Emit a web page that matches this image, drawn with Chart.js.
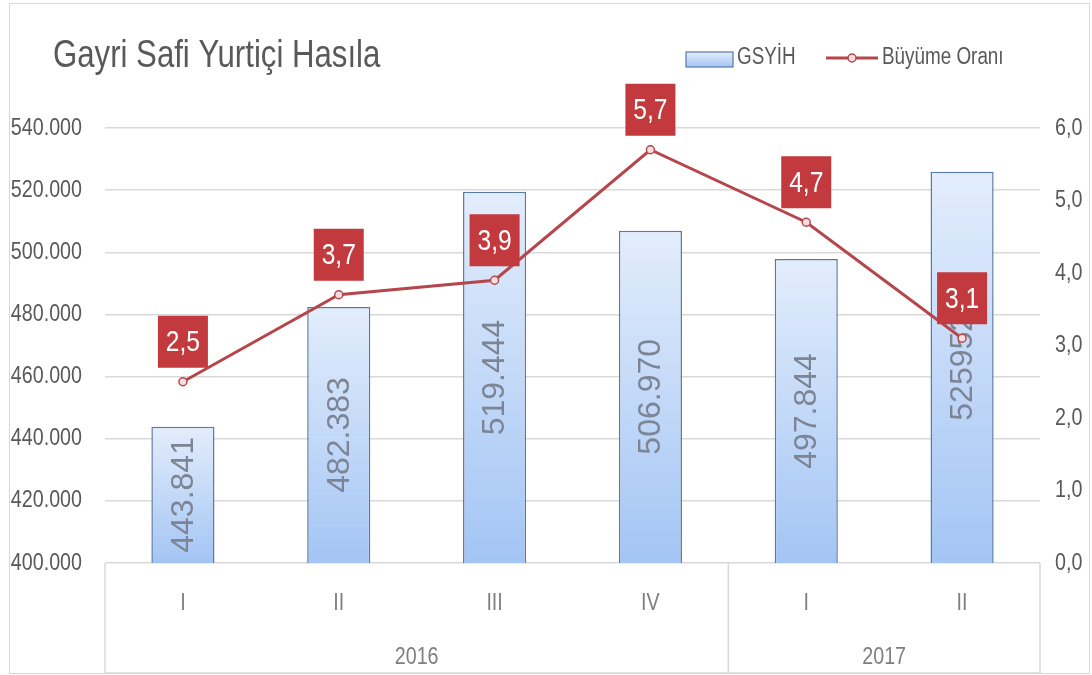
<!DOCTYPE html>
<html>
<head>
<meta charset="utf-8">
<script src="https://cdn.jsdelivr.net/npm/chart.js@4.4.0/dist/chart.umd.min.js"></script>
<style>
  body { margin: 0; background: #fff; }
  #wrap { width: 1092px; height: 675px; position: relative; }
</style>
</head>
<body>
<div id="wrap"><canvas id="canvas"></canvas></div>
<script>
const TITLE = "Gayri Safi Yurtiçi Hasıla";
const quarters = ["I", "II", "III", "IV", "I", "II"];
const years = ["2016", "2016", "2016", "2016", "2017", "2017"];
const gsyih = [443841, 482383, 519444, 506970, 497844, 525952];
const gsyihLabels = ["443.841", "482.383", "519.444", "506.970", "497.844", "525952"];
const buyume = [2.5, 3.7, 3.9, 5.7, 4.7, 3.1];

const SANS = '"Liberation Sans", Arial, sans-serif';
const GRAY = "#595959";
const LINE_RED = "#b5474c";
const BOX_RED = "#c23a3d";
const BAR_EDGE = "#5a7aa6";

function barGradient(c, top, bottom) {
    let g = c.createLinearGradient(0, top, 0, bottom);
    g.addColorStop(0, "#e3edfc");
    g.addColorStop(1, "#a3c5f4");
    return g;
}

// Arial Narrow look-alike: Liberation Sans squeezed sideways
function narrowText(c, text, x, y, size, align, color) {
    c.save();
    c.translate(x, y);
    c.scale(0.82, 1);
    c.font = size + "px " + SANS;
    c.textAlign = align;
    c.textBaseline = "middle";
    c.fillStyle = color;
    c.fillText(text, 0, 0);
    c.restore();
}

function fmtThousands(v) {
    return String(v).replace(/\B(?=(\d{3})+(?!\d))/g, ".");
}

const decorPlugin = {
    id: "decor",
    beforeDraw: function (chart) {
        let c = chart.ctx;
        c.save();
        c.fillStyle = "#fff";
        c.fillRect(0, 0, chart.width, chart.height);
        c.strokeStyle = "#d9d9d9";
        c.lineWidth = 1;
        c.strokeRect(9.5, 3.5, 1080, 670);
        c.restore();
    },
    beforeDatasetDraw: function (chart, args) {
        // bar value labels go under the line
        if (args.index !== 1) return;
        let c = chart.ctx;
        let x = chart.scales.x, y = chart.scales.y;
        c.save();
        c.font = "32px " + SANS;
        c.fillStyle = "#7d8594";
        c.textAlign = "center";
        c.textBaseline = "middle";
        gsyih.forEach(function (v, i) {
            let mid = (y.getPixelForValue(v) + y.getPixelForValue(y.min)) / 2;
            c.save();
            c.translate(x.getPixelForValue(i), mid);
            c.rotate(-Math.PI / 2);
            c.fillText(gsyihLabels[i], 0, 1);
            c.restore();
        });
        c.restore();
    },
    afterDatasetsDraw: function (chart) {
        let c = chart.ctx;
        let x = chart.scales.x, y2 = chart.scales.y2;
        c.save();
        buyume.forEach(function (v, i) {
            let w = 50, h = 52;
            let px = x.getPixelForValue(i);
            let top = y2.getPixelForValue(v) - 14 - h;
            c.fillStyle = BOX_RED;
            c.fillRect(px - w / 2, top, w, h);
            narrowText(c, v.toFixed(1).replace(".", ","), px, top + h / 2 + 1, 30, "center", "#fff");
        });
        c.restore();
    },
    afterDraw: function (chart) {
        let c = chart.ctx;
        let area = chart.chartArea;
        let x = chart.scales.x, y = chart.scales.y, y2 = chart.scales.y2;
        c.save();

        narrowText(c, TITLE, 53, 57, 38, "left", GRAY);

        // axis labels
        y.ticks.forEach(function (t) {
            narrowText(c, fmtThousands(t.value), 82, y.getPixelForValue(t.value), 24, "right", GRAY);
        });
        y2.ticks.forEach(function (t) {
            narrowText(c, t.value.toFixed(1).replace(".", ","), 1055, y2.getPixelForValue(t.value), 24, "left", GRAY);
        });
        quarters.forEach(function (q, i) {
            narrowText(c, q, x.getPixelForValue(i), 603, 24, "center", "#7f7f7f");
        });

        // legend
        c.fillStyle = barGradient(c, 52, 67);
        c.fillRect(686, 52, 47, 15);
        c.strokeStyle = BAR_EDGE;
        c.lineWidth = 1.2;
        c.strokeRect(686, 52, 47, 15);
        narrowText(c, "GSYİH", 737, 58, 23, "left", GRAY);
        c.strokeStyle = LINE_RED;
        c.lineWidth = 3;
        c.beginPath();
        c.moveTo(826, 58);
        c.lineTo(878, 58);
        c.stroke();
        c.beginPath();
        c.arc(852, 58, 4, 0, Math.PI * 2);
        c.fillStyle = "#f6dede";
        c.fill();
        c.lineWidth = 1.5;
        c.stroke();
        narrowText(c, "Büyüme Oranı", 882, 58, 23, "left", GRAY);

        // group separators and year labels
        let bottom = 673;
        c.strokeStyle = "#d9d9d9";
        c.lineWidth = 1.5;
        let cuts = [area.left];
        for (let i = 1; i < years.length; i++) {
            if (years[i] !== years[i - 1]) {
                cuts.push((x.getPixelForValue(i - 1) + x.getPixelForValue(i)) / 2);
            }
        }
        cuts.push(area.right);
        cuts.forEach(function (cx) {
            c.beginPath();
            c.moveTo(cx, area.bottom);
            c.lineTo(cx, bottom);
            c.stroke();
        });
        c.beginPath();
        c.moveTo(area.left, bottom);
        c.lineTo(area.right, bottom);
        c.stroke();

        let groups = [...new Set(years)];
        groups.forEach(function (yr, gi) {
            narrowText(c, yr, (cuts[gi] + cuts[gi + 1]) / 2, 657, 24, "center", "#7f7f7f");
        });
        c.restore();
    }
};

let ctx = document.getElementById("canvas").getContext("2d");
let myChart = new Chart(ctx, {
    type: "bar",
    data: {
        labels: quarters,
        datasets: [{
            type: "bar",
            label: "GSYİH",
            data: gsyih,
            yAxisID: "y",
            order: 1,
            backgroundColor: function (context) {
                let chart = context.chart;
                if (!chart.chartArea || context.dataIndex === undefined) return "#c3d9f8";
                let top = chart.scales.y.getPixelForValue(gsyih[context.dataIndex]);
                return barGradient(chart.ctx, top, chart.chartArea.bottom);
            },
            borderColor: BAR_EDGE,
            borderWidth: 1.5,
            barPercentage: 0.405,
            categoryPercentage: 1
        }, {
            type: "line",
            label: "Büyüme Oranı",
            data: buyume,
            yAxisID: "y2",
            order: 0,
            borderColor: LINE_RED,
            borderWidth: 3,
            pointRadius: 4,
            pointBackgroundColor: "#f6dede",
            pointBorderColor: LINE_RED,
            pointBorderWidth: 1.5,
            tension: 0
        }]
    },
    options: {
        responsive: true,
        maintainAspectRatio: false,
        animation: false,
        layout: { padding: { left: 12, right: 2, top: 128, bottom: 0 } },
        plugins: {
            legend: { display: false },
            tooltip: { enabled: false }
        },
        scales: {
            x: {
                grid: { display: false, drawTicks: false },
                border: { display: false },
                ticks: { display: false },
                afterFit: function (s) { s.height = 112; }
            },
            y: {
                position: "left",
                min: 400000,
                max: 540000,
                grid: { color: "#d9d9d9", lineWidth: 1.5, drawTicks: false },
                border: { display: false },
                ticks: { stepSize: 20000, display: false },
                afterFit: function (s) { s.width = 93; }
            },
            y2: {
                position: "right",
                min: 0,
                max: 6,
                grid: { display: false, drawTicks: false },
                border: { display: false },
                ticks: { stepSize: 1, display: false },
                afterFit: function (s) { s.width = 50; }
            }
        }
    },
    plugins: [decorPlugin]
});
</script>
</body>
</html>
